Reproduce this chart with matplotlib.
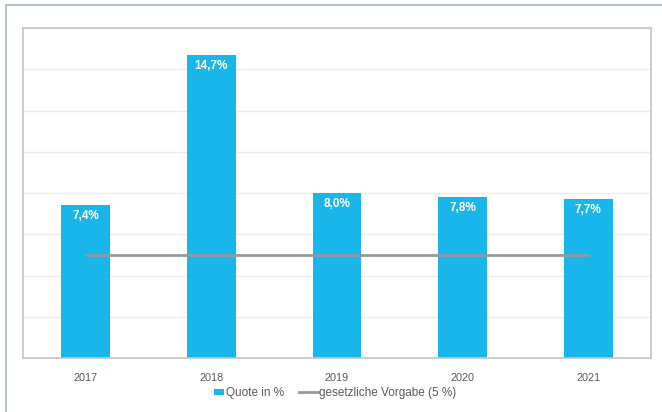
import matplotlib
matplotlib.use("Agg")
import matplotlib.pyplot as plt
from matplotlib.lines import Line2D
from matplotlib.patches import Patch, Rectangle
from matplotlib.legend_handler import HandlerPatch

plt.rcParams['font.family'] = ['Liberation Sans', 'DejaVu Sans']

years = ["2017", "2018", "2019", "2020", "2021"]
quote = [7.4, 14.7, 8.0, 7.8, 7.7]
quote_labels = ["7,4%", "14,7%", "8,0%", "7,8%", "7,7%"]
vorgabe = [5, 5, 5, 5, 5]

bar_color = "#19b6eb"
line_color = "#8e9aa1"

fig = plt.figure(figsize=(6.62, 4.12), dpi=100)
ax = fig.add_axes([23 / 662, 1 - 358 / 412, (651 - 23) / 662, (358 - 28) / 412])

x = list(range(len(years)))
ax.bar(x, quote, width=0.39, color=bar_color, zorder=2)
ax.plot(x, vorgabe, color=line_color, linewidth=2, zorder=3)

for xi, v, lab in zip(x, quote, quote_labels):
    ax.text(xi, v - 0.52, lab, ha="center", va="center", color="white",
            fontsize=8.5, fontweight="bold", zorder=4)

ax.set_xlim(-0.5, len(years) - 0.5)
ax.set_ylim(0, 16)
ax.set_yticks(range(0, 17, 2))
ax.yaxis.grid(True, color="#ededed", linewidth=1, zorder=0)
ax.set_axisbelow(True)
ax.tick_params(axis="y", left=False, labelleft=False)
ax.set_xticks(x)
ax.set_xticklabels(years, fontsize=7.8, color="#595959")
ax.tick_params(axis="x", length=0, pad=11)
for s in ax.spines.values():
    s.set_color("#c4c4c4")
    s.set_linewidth(1.2)


def small_box(legend, orig_handle, xdescent, ydescent, width, height, fontsize):
    w, h = 7.5, 4.0
    return Rectangle((width - w - xdescent, -ydescent + (height - h) / 2), w, h)


handles = [Patch(facecolor=bar_color, edgecolor="none"),
           Line2D([0], [0], color=line_color, linewidth=2)]
fig.legend(handles, ["Quote in %", "gesetzliche Vorgabe (5 %)"],
           loc="center", bbox_to_anchor=(0.5, 1 - 393 / 412), ncol=2,
           frameon=False, fontsize=8.5, handlelength=1.6, handletextpad=0.1,
           columnspacing=1.3, labelcolor="#595959",
           handler_map={Patch: HandlerPatch(patch_func=small_box)})

# outer frame
frame_color = "#b7c3cb"
fig.add_artist(Line2D([6 / 662, 6 / 662], [0, 1 - 5 / 412], color=frame_color,
                      linewidth=1.5, transform=fig.transFigure))
fig.add_artist(Line2D([6 / 662, 1], [1 - 5 / 412, 1 - 5 / 412], color=frame_color,
                      linewidth=1.5, transform=fig.transFigure))

fig.savefig("out.png", dpi=100)
